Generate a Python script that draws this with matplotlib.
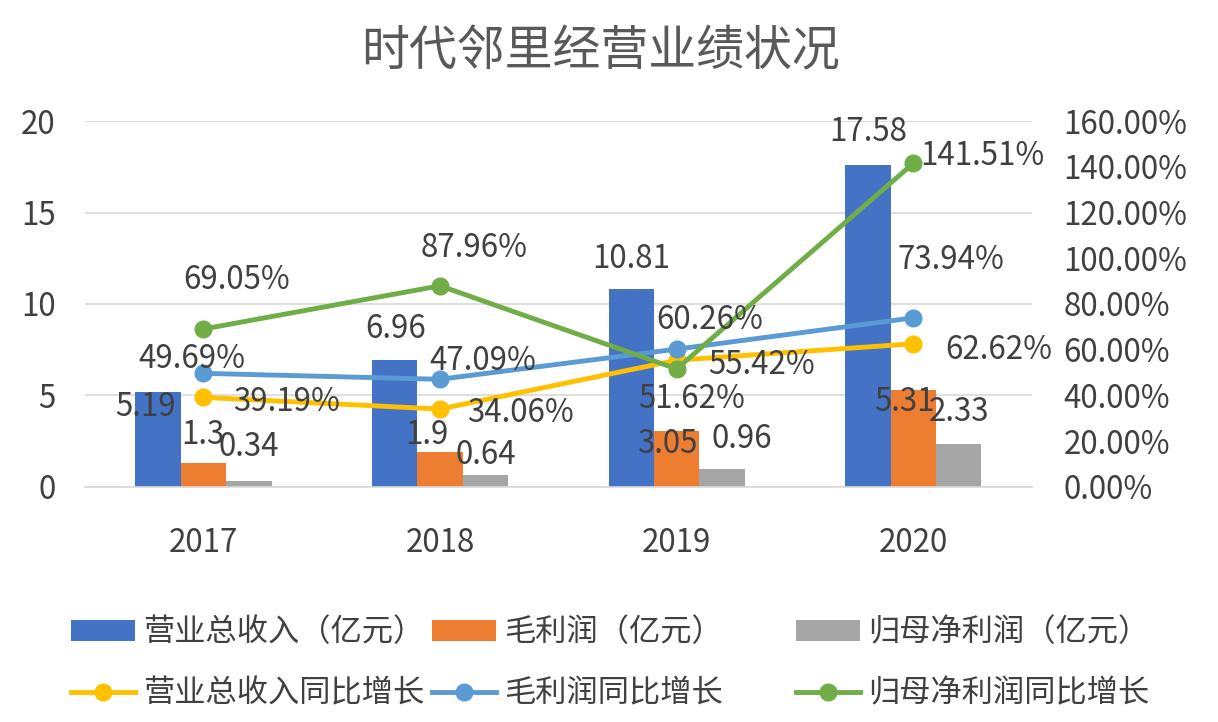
import matplotlib
matplotlib.use("Agg")
import matplotlib.pyplot as plt
import numpy as np
from matplotlib.lines import Line2D
from matplotlib.patches import Patch

plt.rcParams["font.family"] = ["Noto Sans CJK SC", "DejaVu Sans"]

TEXT = "#404040"
GRID = "#D9D9D9"
FS = 22.5

years = ["2017", "2018", "2019", "2020"]
revenue = [5.19, 6.96, 10.81, 17.58]
gross_profit = [1.3, 1.9, 3.05, 5.31]
net_profit = [0.34, 0.64, 0.96, 2.33]
revenue_yoy = [39.19, 34.06, 55.42, 62.62]
gross_yoy = [49.69, 47.09, 60.26, 73.94]
net_yoy = [69.05, 87.96, 51.62, 141.51]

bar_names = ["营业总收入（亿元）", "毛利润（亿元）", "归母净利润（亿元）"]
line_names = ["营业总收入同比增长", "毛利润同比增长", "归母净利润同比增长"]
bar_colors = ["#4472C4", "#ED7D31", "#A5A5A5"]
line_colors = ["#FFC000", "#5B9BD5", "#70AD47"]

# label offsets in pixels (dx, dy), dy positive = up
bar_offsets = [
    [(-12, -13), (1, 33), (0, 32), (0, 35)],
    [(0, 30), (-13, 19), (-9, -11), (-9, -10)],
    [(0, 36), (0, 22), (20, 32), (0, 34)],
]
line_offsets = [
    [(83, -3), (80, -2), (85, -3), (85, -4)],
    [(-11, 16), (43, 20), (33, 31), (38, 60)],
    [(33, 51), (34, 40), (15, -28), (69, 9)],
]

fig = plt.figure(figsize=(12.18, 7.22), dpi=100)
ax = fig.add_axes([0.0698, 0.3255, 0.7772, 0.5069])
ax2 = ax.twinx()

x = np.arange(len(years))
w = 0.192
bar_series = [revenue, gross_profit, net_profit]
for i, (vals, col) in enumerate(zip(bar_series, bar_colors)):
    pos = x + (i - 1) * w
    ax.bar(pos, vals, w, color=col, zorder=2)
    for xi, v, (dx, dy) in zip(pos, vals, bar_offsets[i]):
        ax.annotate(f"{v:g}", (xi, v), xytext=(dx, dy - 2), textcoords="offset pixels",
                    ha="center", va="center", fontsize=FS, color=TEXT, zorder=5)

ax.set_xlim(-0.5, 3.5)
ax.set_ylim(0, 20)
ax.set_yticks([0, 5, 10, 15, 20])
ax.set_xticks(x)
ax.set_xticklabels(years)
ax.grid(axis="y", color=GRID, linewidth=1.2, zorder=0)
ax.set_axisbelow(True)
ax.tick_params(axis="both", length=0, labelsize=FS, labelcolor=TEXT)
ax.tick_params(axis="x", pad=29)
ax.tick_params(axis="y", pad=21)
for s in ["top", "right", "left"]:
    ax.spines[s].set_visible(False)
ax.spines["bottom"].set_color(GRID)
ax.spines["bottom"].set_linewidth(1.2)

line_series = [revenue_yoy, gross_yoy, net_yoy]
for i, (vals, col) in enumerate(zip(line_series, line_colors)):
    ax2.plot(x, vals, color=col, linewidth=3.5, marker="o", markersize=12, zorder=3)
    for xi, v, (dx, dy) in zip(x, vals, line_offsets[i]):
        ax2.annotate(f"{v:.2f}%", (xi, v), xytext=(dx, dy - 2), textcoords="offset pixels",
                     ha="center", va="center", fontsize=FS, color=TEXT, zorder=5)

ax2.set_ylim(0, 160)
ax2.set_yticks(np.arange(0, 161, 20))
ax2.set_yticklabels([f"{t:.2f}%" for t in np.arange(0, 161, 20)])
ax2.tick_params(axis="y", length=0, labelsize=FS, labelcolor=TEXT, pad=23)
for s in ax2.spines.values():
    s.set_visible(False)

fig.text(0.493, 0.929, "时代邻里经营业绩状况", ha="center", va="center",
         fontsize=34.5, color="#595959")

col_x = [0.048, 0.3447, 0.6434]
for i in range(3):
    handles = [
        Patch(facecolor=bar_colors[i], edgecolor="none"),
        Line2D([], [], color=line_colors[i], linewidth=3.5, marker="o", markersize=12),
    ]
    leg = fig.legend(handles, [bar_names[i], line_names[i]], loc="upper left",
                     bbox_to_anchor=(col_x[i], 0.164), frameon=False,
                     fontsize=FS, handlelength=2.05, handleheight=0.65,
                     handletextpad=0.25, labelspacing=0.95, borderaxespad=0)
    for t in leg.get_texts():
        t.set_color(TEXT)

fig.savefig("out.png", dpi=100)
